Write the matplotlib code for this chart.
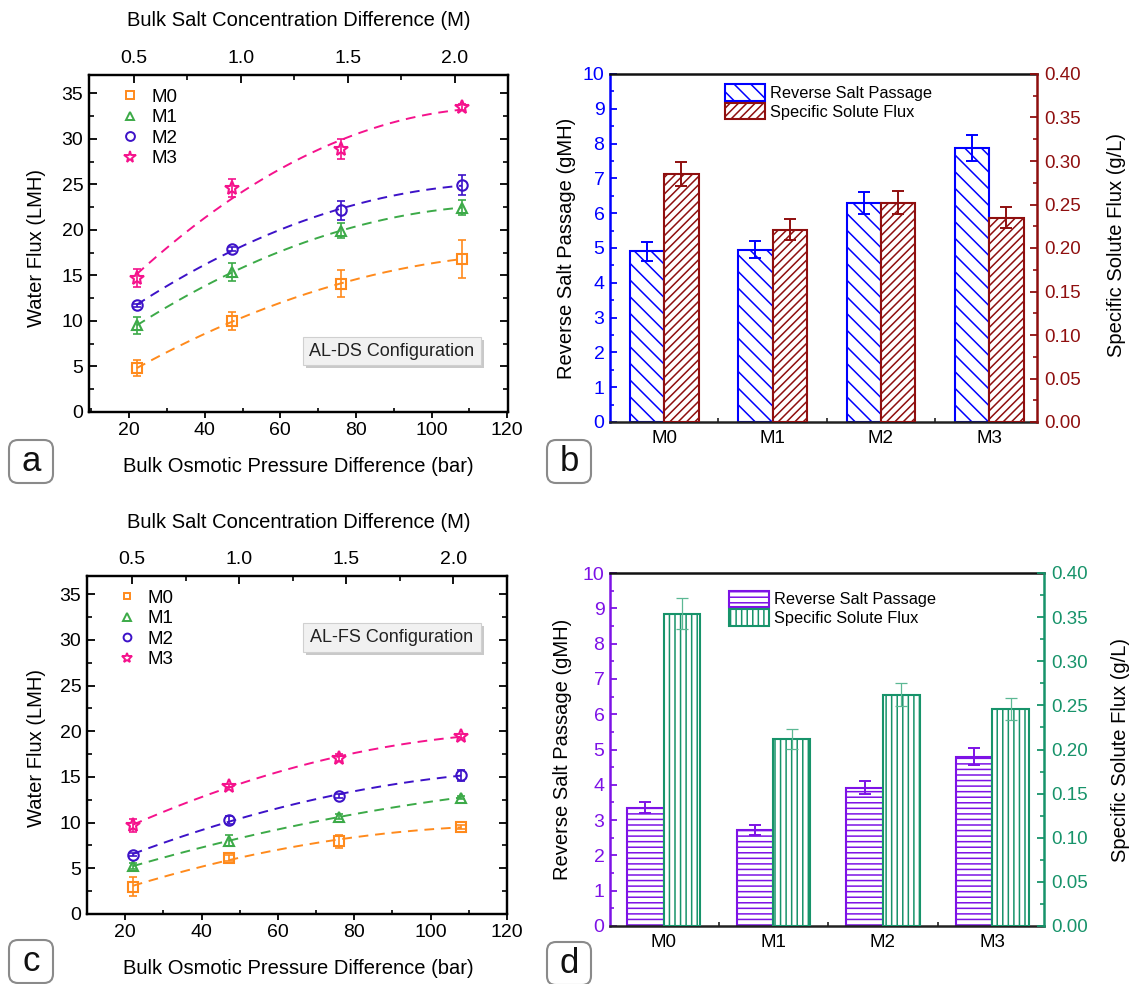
import numpy as np
import matplotlib
matplotlib.use("Agg")
import matplotlib.pyplot as plt
from matplotlib.ticker import MultipleLocator, FormatStrFormatter
from matplotlib.patches import FancyBboxPatch, Patch
from matplotlib.lines import Line2D
from matplotlib.transforms import IdentityTransform

plt.rcParams['font.family'] = ['Liberation Sans', 'DejaVu Sans']
plt.rcParams['hatch.linewidth'] = 1.1

# ---------------- data ----------------
osm_p = [22.0, 47.3, 76.0, 108.0]          # bulk osmotic pressure difference (bar)
series_names = ["M0", "M1", "M2", "M3"]

# Panel a (AL-DS) water flux
a_M0 = [4.8, 9.95, 14.1, 16.8]
a_M1 = [9.5, 15.35, 19.9, 22.45]
a_M2 = [11.7, 17.9, 22.15, 24.9]
a_M3 = [14.7, 24.6, 28.85, 33.5]
a_M0_err = [0.9, 1.0, 1.5, 2.1]
a_M1_err = [0.9, 1.0, 0.8, 0.8]
a_M2_err = [0.2, 0.2, 1.05, 1.1]
a_M3_err = [1.0, 1.0, 1.1, 0.3]

# Panel c (AL-FS) water flux
c_M0 = [3.0, 6.15, 7.95, 9.55]
c_M1 = [5.25, 8.0, 10.65, 12.75]
c_M2 = [6.5, 10.3, 12.95, 15.2]
c_M3 = [9.7, 14.05, 17.1, 19.45]
c_M0_err = [1.0, 0.3, 0.7, 0.2]
c_M1_err = [0.3, 0.6, 0.3, 0.2]
c_M2_err = [0.2, 0.4, 0.2, 0.6]
c_M3_err = [0.7, 0.2, 0.4, 0.2]

# Panel b (bars)
membranes = ["M0", "M1", "M2", "M3"]
b_rsp = [4.9, 4.95, 6.3, 7.87]
b_rsp_err = [0.26, 0.24, 0.32, 0.38]
b_ssf = [0.285, 0.221, 0.252, 0.235]
b_ssf_err = [0.014, 0.012, 0.013, 0.012]

# Panel d (bars)
d_rsp = [3.35, 2.72, 3.92, 4.8]
d_rsp_err = [0.16, 0.14, 0.18, 0.24]
d_ssf = [0.354, 0.212, 0.262, 0.246]
d_ssf_err = [0.018, 0.011, 0.013, 0.0125]

top_ticks = [0.5, 1.0, 1.5, 2.0]
bottom_ticks = [20, 40, 60, 80, 100, 120]
flux_ticks = [0, 5, 10, 15, 20, 25, 30, 35]

# ---------------- figure ----------------
W, H = 1135, 984
fig = plt.figure(figsize=(W / 100, H / 100), dpi=100)


def px_axes(l, r, t, b):
    return [l / W, 1 - b / H, (r - l) / W, (b - t) / H]


colors = ["#ff8a1c", "#3caa48", "#3d12c8", "#f5128c"]
markers = ["s", "^", "o", "*"]
msizes = [6.5, 7.5, 7.5, 10]
TICK_FS = 14
LABEL_FS = 14.5


def flux_panel(rect, ys, errs, xlim, toplim, legend_anchor, legend_ms):
    ax = fig.add_axes(px_axes(*rect))
    x = np.array(osm_p)
    for y, e, c, m, ms, name in zip(ys, errs, colors, markers, msizes, series_names):
        y = np.array(y)
        p = np.polyfit(x, y, 2)
        xx = np.linspace(x[0], x[-1], 200)
        ax.plot(xx, np.polyval(p, xx), color=c, lw=1.4, ls=(0, (5, 3.5)), zorder=2)
        ax.errorbar(x, y, yerr=e, fmt='none', ecolor=c, elinewidth=1.2,
                    capsize=2.6, capthick=1.2, zorder=3)
        ax.plot(x, y, ls='none', marker=m, ms=ms, mfc='none', mec=c, mew=1.5, zorder=4)
    ax.set_xlim(*xlim)
    ax.set_ylim(0, 37)
    ax.set_xticks(bottom_ticks)
    ax.set_yticks(flux_ticks)
    ax.xaxis.set_minor_locator(MultipleLocator(10))
    ax.yaxis.set_minor_locator(MultipleLocator(2.5))
    ax.tick_params(axis='y', which='major', direction='in', left=True, right=True,
                   length=6, width=1.3, labelsize=TICK_FS, pad=4)
    ax.tick_params(axis='y', which='minor', direction='in', left=True, right=True,
                   length=3.5, width=1.2)
    ax.tick_params(axis='x', which='major', direction='out', top=False,
                   length=4, width=1.3, labelsize=TICK_FS, pad=3)
    ax.tick_params(axis='x', which='minor', direction='in', top=False,
                   length=3, width=1.2)
    for s in ax.spines.values():
        s.set_linewidth(1.6)
    tx = ax.twiny()
    tx.set_xlim(*toplim)
    tx.set_xticks(top_ticks)
    tx.xaxis.set_major_formatter(FormatStrFormatter('%.1f'))
    tx.xaxis.set_minor_locator(MultipleLocator(0.25))
    tx.tick_params(axis='x', which='major', direction='in', length=6, width=1.3,
                   labelsize=TICK_FS, pad=6)
    tx.tick_params(axis='x', which='minor', direction='in', length=3.5, width=1.2)
    for s in tx.spines.values():
        s.set_linewidth(1.6)
    handles = [Line2D([], [], ls='none', marker=m, ms=ms * legend_ms, mfc='none', mec=c, mew=1.4)
               for c, m, ms in zip(colors, markers, msizes)]
    ax.legend(handles, series_names, loc='upper left', bbox_to_anchor=legend_anchor,
              frameon=False, fontsize=13.5, handlelength=1.2, handletextpad=0.5,
              labelspacing=0.18, borderpad=0, borderaxespad=0)
    return ax


ax_a = flux_panel((89, 508, 75, 412),
                  [a_M0, a_M1, a_M2, a_M3], [a_M0_err, a_M1_err, a_M2_err, a_M3_err],
                  (9.4, 120.2), (0.29, 2.248), (0.072, 0.96), 0.85)
ax_c = flux_panel((87, 507, 576, 914),
                  [c_M0, c_M1, c_M2, c_M3], [c_M0_err, c_M1_err, c_M2_err, c_M3_err],
                  (10.0, 120.0), (0.29, 2.25), (0.068, 0.96), 0.75)


def bar_panel(rect, rsp, rsp_err, ssf, ssf_err, c_left, c_right, h_left, h_right,
              width, xlim, ecol_right, elw_right, legend_anchor):
    ax = fig.add_axes(px_axes(*rect))
    idx = np.arange(len(membranes))
    ax.bar(idx - width, rsp, width, align='edge', facecolor='white', edgecolor=c_left,
           hatch=h_left, lw=1.5, zorder=2)
    ax.errorbar(idx - width / 2, rsp, yerr=rsp_err, fmt='none', ecolor=c_left,
                elinewidth=1.4, capsize=4, capthick=1.4, zorder=3)
    ax.set_ylim(0, 10)
    ax.set_xlim(*xlim)
    ax.set_yticks(np.arange(0, 11, 1))
    ax.yaxis.set_minor_locator(MultipleLocator(0.5))
    ax.set_xticks(idx)
    ax.set_xticklabels(membranes)
    ax.set_xticks(idx[:-1] + 0.5, minor=True)
    ax.tick_params(axis='x', which='major', length=0, labelsize=13.5, pad=6)
    ax.tick_params(axis='x', which='minor', direction='in', length=3, width=1.3, color='#333333')
    ax.tick_params(axis='y', which='major', direction='in', length=5, width=1.3,
                   colors=c_left, labelsize=TICK_FS, pad=4)
    ax.tick_params(axis='y', which='minor', direction='in', length=3, width=1.2, colors=c_left)
    ax.spines['left'].set_color(c_left)
    ax.spines['right'].set_visible(False)
    for s in ax.spines.values():
        s.set_linewidth(1.8)
    ax.spines['bottom'].set_color('#222222')
    ax.spines['top'].set_color('#111111')

    ax2 = ax.twinx()
    ax2.bar(idx, ssf, width, align='edge', facecolor='white', edgecolor=c_right,
            hatch=h_right, lw=1.5, zorder=2)
    ax2.errorbar(idx + width / 2, ssf, yerr=ssf_err, fmt='none', ecolor=ecol_right,
                 elinewidth=elw_right, capsize=4, capthick=elw_right, zorder=3)
    ax2.set_ylim(0, 0.40)
    ax2.set_yticks(np.arange(0, 0.401, 0.05))
    ax2.yaxis.set_major_formatter(FormatStrFormatter('%.2f'))
    ax2.yaxis.set_minor_locator(MultipleLocator(0.025))
    ax2.tick_params(axis='y', which='major', direction='in', length=5, width=1.3,
                    colors=c_right, labelsize=TICK_FS - 0.5, pad=5)
    ax2.tick_params(axis='y', which='minor', direction='in', length=3, width=1.2, colors=c_right)
    ax2.spines['left'].set_visible(False)
    ax2.spines['bottom'].set_visible(False)
    ax2.spines['top'].set_visible(False)
    ax2.spines['right'].set_color(c_right)
    ax2.spines['right'].set_linewidth(1.8)

    handles = [Patch(facecolor='white', edgecolor=c_left, hatch=h_left, lw=1.5),
               Patch(facecolor='white', edgecolor=c_right, hatch=h_right, lw=1.5)]
    ax2.legend(handles, ["Reverse Salt Passage", "Specific Solute Flux"], loc='upper left',
               bbox_to_anchor=legend_anchor, frameon=False, fontsize=11.8,
               handlelength=2.4, handleheight=1.15, handletextpad=0.3,
               labelspacing=0.12, borderpad=0, borderaxespad=0)
    return ax, ax2


b_blue, b_red = "#0000ff", "#8f0f0f"
d_purple, d_green = "#7d12e6", "#17936a"

bar_panel((610, 1037, 74, 422), b_rsp, b_rsp_err, b_ssf, b_ssf_err,
          b_blue, b_red, '\\\\', '////', 0.317, (-0.5, 3.44), b_red, 1.4, (0.27, 0.97))
bar_panel((610, 1044, 573, 926), d_rsp, d_rsp_err, d_ssf, d_ssf_err,
          d_purple, d_green, '---', '|||', 0.335, (-0.49, 3.47), "#5cb894", 0.9, (0.275, 0.95))

# ---------------- axis labels ----------------
def ftext(x, y, s, **kw):
    fig.text(x / W, 1 - y / H, s, ha='center', va='center', **kw)

ftext(298, 466, "Bulk Osmotic Pressure Difference (bar)", fontsize=LABEL_FS)
ftext(298, 968, "Bulk Osmotic Pressure Difference (bar)", fontsize=LABEL_FS)
ftext(299, 20, "Bulk Salt Concentration Difference (M)", fontsize=LABEL_FS)
ftext(299, 522, "Bulk Salt Concentration Difference (M)", fontsize=LABEL_FS)
ftext(37, 248, "Water Flux (LMH)", fontsize=LABEL_FS, rotation=90)
ftext(37, 748, "Water Flux (LMH)", fontsize=LABEL_FS, rotation=90)
ftext(566, 248, "Reverse Salt Passage (gMH)", fontsize=LABEL_FS, rotation=90)
ftext(562, 749, "Reverse Salt Passage (gMH)", fontsize=LABEL_FS, rotation=90)
ftext(1117, 245, "Specific Solute Flux (g/L)", fontsize=LABEL_FS, rotation=90)
ftext(1120, 750, "Specific Solute Flux (g/L)", fontsize=LABEL_FS, rotation=90)

# ---------------- configuration boxes ----------------
def config_box(x0, y0, x1, y1, s):
    sh = FancyBboxPatch((x0 + 3, H - y1 - 3), x1 - x0, y1 - y0, boxstyle="square,pad=0",
                        transform=IdentityTransform(), facecolor='#c9c9c9', edgecolor='none',
                        zorder=10)
    bx = FancyBboxPatch((x0, H - y1), x1 - x0, y1 - y0, boxstyle="square,pad=0",
                        transform=IdentityTransform(), facecolor='#f1f1f1', edgecolor='#d0d0d0',
                        lw=0.8, zorder=11)
    fig.add_artist(sh)
    fig.add_artist(bx)
    fig.text((x0 + x1) / 2 / W, 1 - (y0 + y1) / 2 / H, s, ha='center', va='center',
             fontsize=13, color='#222222', zorder=12)

config_box(303, 337, 481, 365, "AL-DS Configuration")
config_box(303, 623, 481, 652, "AL-FS Configuration")

# ---------------- panel letters ----------------
def letter_box(x0, y0, x1, y1, s):
    bx = FancyBboxPatch((x0, H - y1), x1 - x0, y1 - y0,
                        boxstyle="round,pad=0,rounding_size=9",
                        transform=IdentityTransform(), facecolor='white', edgecolor='#8a8a8a',
                        lw=1.5, zorder=10)
    fig.add_artist(bx)
    fig.text((x0 + x1) / 2 / W, 1 - (y0 + y1) / 2 / H, s, ha='center', va='center',
             fontsize=25, color='#111111', zorder=11)

letter_box(9, 440, 53, 483, "a")
letter_box(547, 440, 591, 483, "b")
letter_box(9, 940, 53, 983, "c")
letter_box(547, 942, 591, 985, "d")

fig.savefig("out.png", dpi=100)
